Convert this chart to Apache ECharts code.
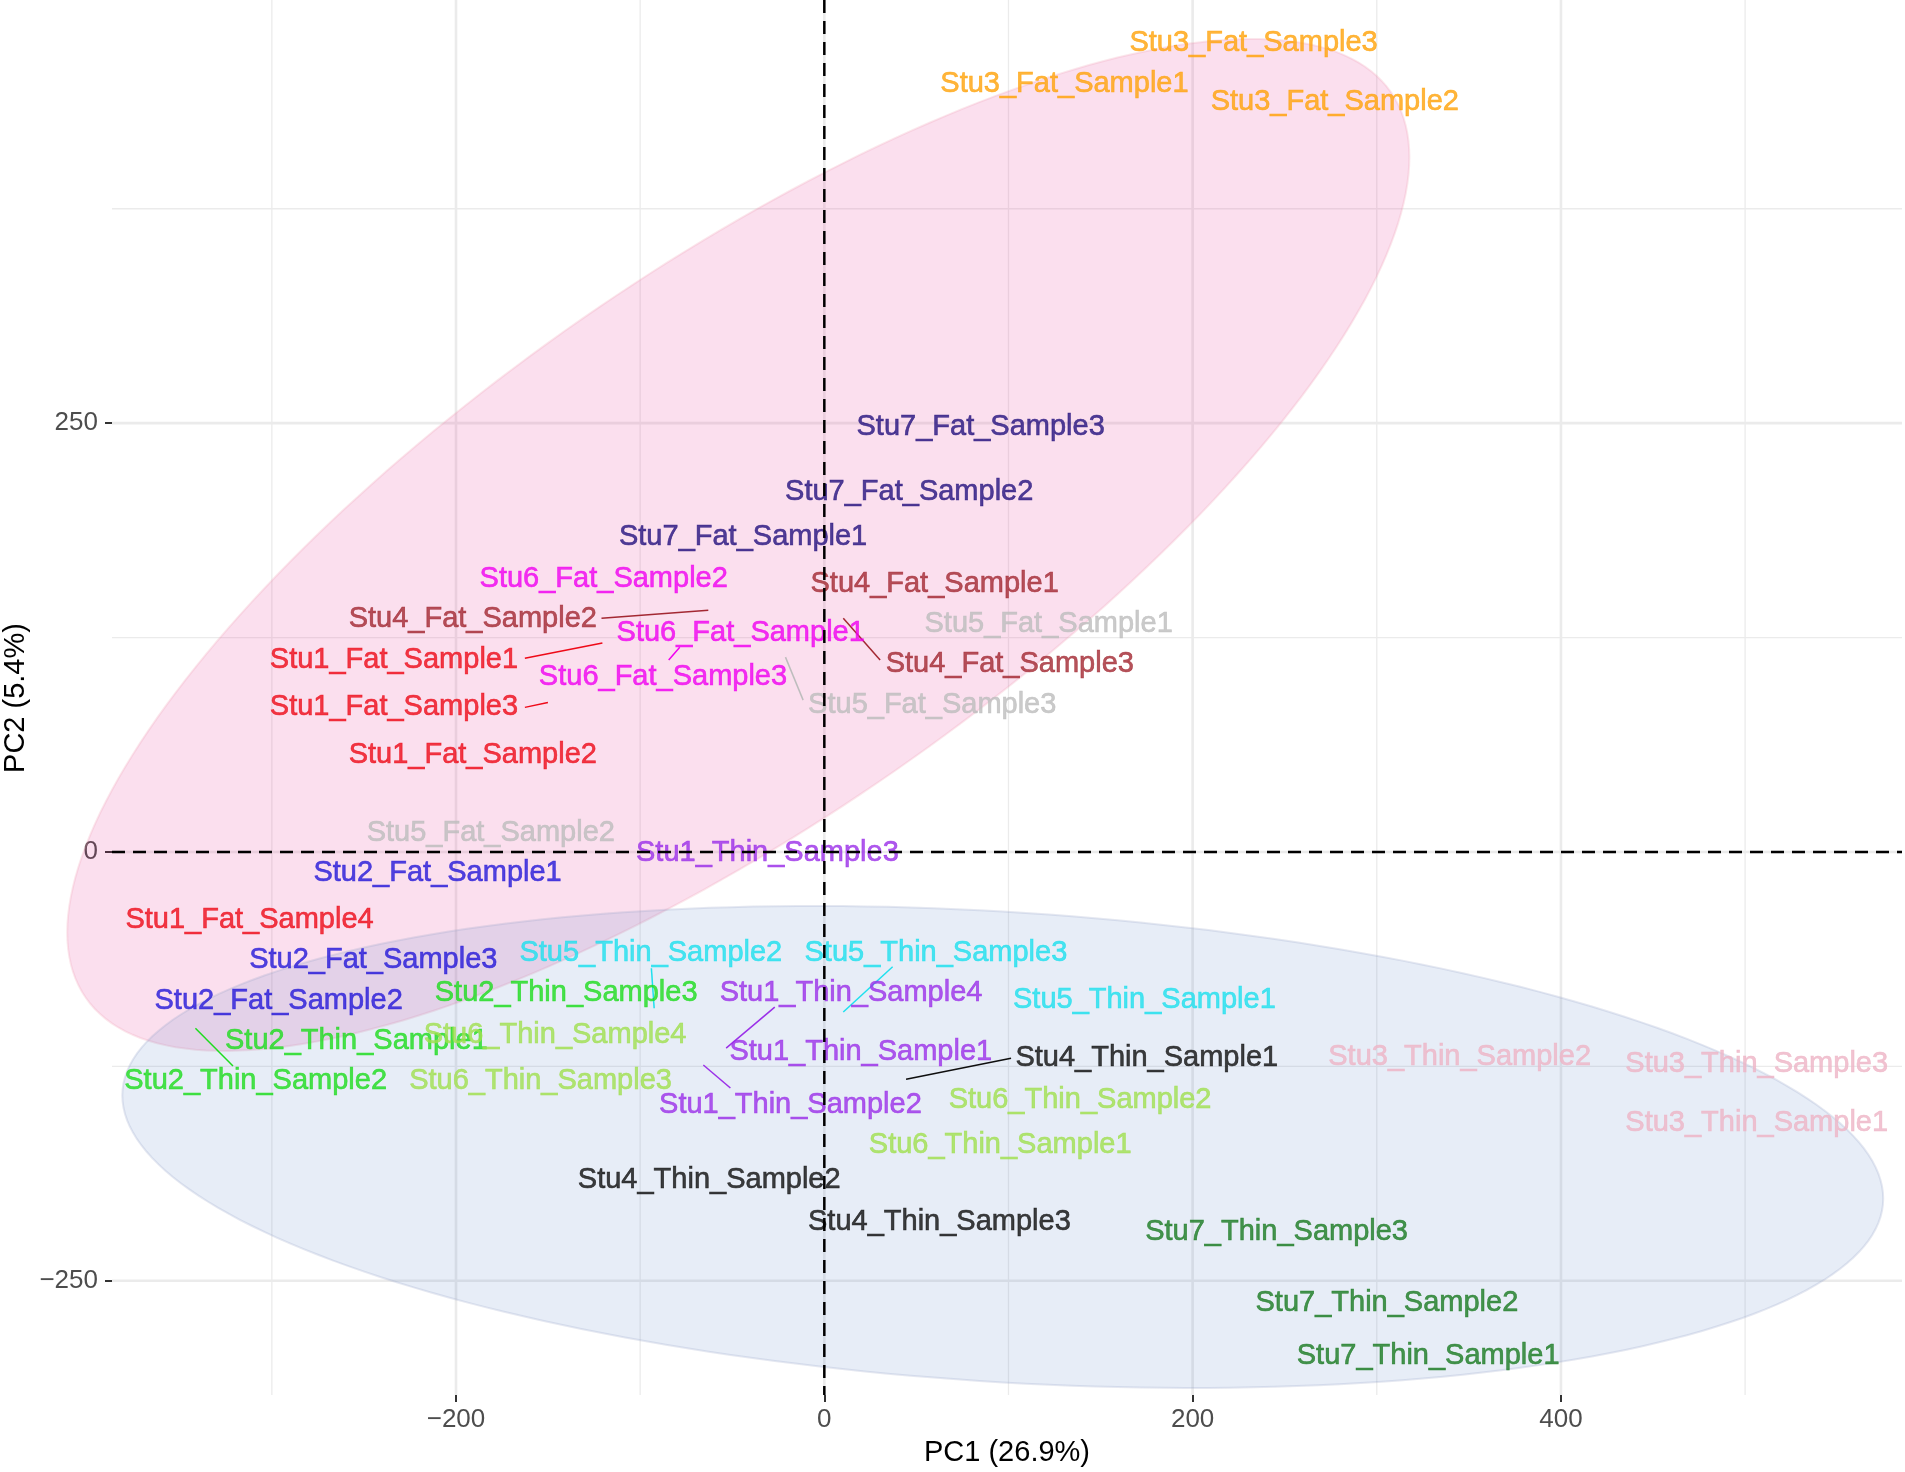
<!DOCTYPE html>
<html lang="en">
<head>
    <meta charset="UTF-8">
    <title>PCA</title>
    <style type="text/css">
        html,
        body,
        #chart {
            padding: 0;
            margin: 0;
            overflow: hidden;
            background-color: #ffffff;
            width: 100%;
            height: 100%;
        }
    </style>
</head>
<body>
<div id="chart"></div>
<script type="text/javascript" src="https://cdn.jsdelivr.net/npm/echarts@6/dist/echarts.min.js"></script>
<script>
    // label positions (PC1, PC2)
    const sampleNames = [
        'Stu3_Fat_Sample3', 'Stu3_Fat_Sample1', 'Stu3_Fat_Sample2',
        'Stu7_Fat_Sample3', 'Stu7_Fat_Sample2', 'Stu7_Fat_Sample1',
        'Stu6_Fat_Sample2', 'Stu4_Fat_Sample1', 'Stu4_Fat_Sample2',
        'Stu5_Fat_Sample1', 'Stu6_Fat_Sample1', 'Stu1_Fat_Sample1',
        'Stu4_Fat_Sample3', 'Stu6_Fat_Sample3', 'Stu1_Fat_Sample3',
        'Stu5_Fat_Sample3', 'Stu1_Fat_Sample2', 'Stu5_Fat_Sample2',
        'Stu1_Thin_Sample3', 'Stu2_Fat_Sample1', 'Stu1_Fat_Sample4',
        'Stu5_Thin_Sample2', 'Stu5_Thin_Sample3', 'Stu2_Fat_Sample3',
        'Stu2_Thin_Sample3', 'Stu1_Thin_Sample4', 'Stu5_Thin_Sample1',
        'Stu2_Fat_Sample2', 'Stu2_Thin_Sample1', 'Stu6_Thin_Sample4',
        'Stu1_Thin_Sample1', 'Stu4_Thin_Sample1', 'Stu3_Thin_Sample2',
        'Stu3_Thin_Sample3', 'Stu2_Thin_Sample2', 'Stu6_Thin_Sample3',
        'Stu6_Thin_Sample2', 'Stu1_Thin_Sample2', 'Stu3_Thin_Sample1',
        'Stu6_Thin_Sample1', 'Stu4_Thin_Sample2', 'Stu4_Thin_Sample3',
        'Stu7_Thin_Sample3', 'Stu7_Thin_Sample2', 'Stu7_Thin_Sample1'
    ];
    const pc1 = [
        233.1, 130.4, 277.2,
        84.9, 46.1, -44.1,
        -119.8, 59.9, -190.9,
        121.8, -45.4, -233.7,
        100.7, -87.6, -233.7,
        58.6, -190.9, -181.1,
        -30.9, -210.0, -312.1,
        -94.2, 60.6, -244.9,
        -140.2, 14.5, 173.8,
        -296.3, -254.1, -146.2,
        19.8, 175.1, 345.0,
        506.3, -308.8, -154.1,
        138.9, -18.4, 506.3,
        95.5, -62.5, 62.5,
        245.6, 305.5, 327.9
    ];
    const pc2 = [
        471.5, 447.5, 437.5,
        247.8, 209.6, 183.4,
        159.3, 156.5, 135.9,
        133.1, 127.4, 111.9,
        109.7, 102.0, 84.3,
        85.7, 56.6, 11.3,
        -0.7, -12.0, -39.6,
        -58.8, -58.8, -63.0,
        -82.1, -82.1, -86.4,
        -87.1, -110.4, -106.9,
        -116.8, -120.4, -119.7,
        -123.9, -133.8, -133.8,
        -144.4, -147.3, -157.9,
        -170.6, -191.2, -215.9,
        -221.6, -262.7, -293.8
    ];

    // repel segments: label side -> point side
    const segLabel = [
        'Stu4_Fat_Sample2', 'Stu1_Fat_Sample1', 'Stu6_Fat_Sample3', 'Stu1_Fat_Sample3',
        'Stu4_Fat_Sample3', 'Stu5_Fat_Sample3', 'Stu2_Thin_Sample1', 'Stu5_Thin_Sample2',
        'Stu1_Thin_Sample2', 'Stu1_Thin_Sample4', 'Stu5_Thin_Sample3', 'Stu4_Thin_Sample1'
    ];
    const segFrom = [
        [-121.0, 136.3], [-162.6, 112.9], [-84.5, 111.9], [-162.6, 84.3],
        [10.3, 136.2], [-21.1, 113.6], [-341.5, -102.8], [-93.9, -67.8],
        [-65.7, -124.2], [-26.9, -90.5], [37.1, -66.9], [101.4, -120.3]
    ];
    const segTo = [
        [-63.0, 140.9], [-120.5, 121.8], [-78.5, 119.3], [-150.1, 87.1],
        [30.3, 111.9], [-11.5, 88.5], [-321.1, -124.8], [-92.4, -91.1],
        [-51.0, -137.6], [-53.3, -114.4], [10.3, -93.3], [44.4, -132.5]
    ];

    const groupColors = {
        Stu1_Fat: '#EE0A18', Stu1_Thin: '#9B30E8',
        Stu2_Fat: '#2418D8', Stu2_Thin: '#1EDC1E',
        Stu3_Fat: '#FFA20A', Stu3_Thin: '#EDB4C6',
        Stu4_Fat: '#A32832', Stu4_Thin: '#0E0E0E',
        Stu5_Fat: '#BDBDBD', Stu5_Thin: '#1EE0EE',
        Stu6_Fat: '#F000F0', Stu6_Thin: '#A0E050',
        Stu7_Fat: '#24127E', Stu7_Thin: '#1A7A22'
    };

    // confidence ellipses: Fat, Thin
    const ellipseCenter = [[-46.7, 179.0], [96.9, -172.0]];
    const ellipseRadius = [[364.4, 295.0], [478.1, 140.5]];
    const ellipseRho = [0.766, -0.214];
    const ellipseFill = ['rgba(231,41,138,0.15)', 'rgba(70,115,195,0.13)'];
    const ellipseStroke = ['rgba(240,160,180,0.25)', 'rgba(150,165,200,0.25)'];

    const xMajor = [-200, 0, 200, 400];
    const xMinor = [-300, -100, 100, 300, 500];
    const yMajor = [-250, 0, 250];
    const yMinor = [-125, 125, 375];

    const FONT = "'Liberation Sans', Arial, Helvetica, sans-serif";

    function groupOf(name) {
        return name.split('_').slice(0, 2).join('_');
    }

    function minusFmt(v) {
        return v < 0 ? '\u2212' + Math.abs(v) : String(v);
    }

    const chart = echarts.init(document.getElementById('chart'), null, {renderer: 'canvas'});

    const gridData = [];
    xMajor.forEach(v => gridData.push([v, 0, 0, 1]));
    xMinor.forEach(v => gridData.push([v, 0, 0, 0]));
    yMajor.forEach(v => gridData.push([0, v, 1, 1]));
    yMinor.forEach(v => gridData.push([0, v, 1, 0]));

    const option = {
        animation: false,
        backgroundColor: '#ffffff',
        grid: {left: 112, right: 3, top: 0, bottom: 77, containLabel: false},
        xAxis: {
            type: 'value',
            min: -386.8,
            max: 585.2,
            name: 'PC1 (26.9%)',
            nameLocation: 'middle',
            nameGap: 43,
            nameTextStyle: {fontSize: 29, color: '#000000', fontFamily: FONT},
            axisLine: {show: false, onZero: false},
            axisTick: {show: true, customValues: xMajor, length: 7, lineStyle: {color: '#333333', width: 2}},
            axisLabel: {customValues: xMajor, formatter: minusFmt, fontSize: 26, color: '#4D4D4D', fontFamily: FONT, margin: 12},
            splitLine: {show: false}
        },
        yAxis: {
            type: 'value',
            min: -316.6,
            max: 496.7,
            axisLine: {show: false, onZero: false},
            axisTick: {show: true, customValues: yMajor, length: 7, lineStyle: {color: '#333333', width: 2}},
            axisLabel: {customValues: yMajor, formatter: minusFmt, fontSize: 26, color: '#4D4D4D', fontFamily: FONT, margin: 14},
            splitLine: {show: false}
        },
        graphic: [{
            type: 'text',
            x: 16,
            y: 698,
            rotation: Math.PI / 2,
            style: {
                text: 'PC2 (5.4%)',
                font: '29px ' + FONT,
                fill: '#000000',
                align: 'center',
                verticalAlign: 'middle',
                textAlign: 'center',
                textVerticalAlign: 'middle'
            }
        }],
        series: [
            {
                // panel grid lines
                type: 'custom',
                coordinateSystem: 'cartesian2d',
                silent: true,
                z: 0,
                data: gridData,
                renderItem: function (params, api) {
                    const cs = params.coordSys;
                    const p = api.coord([api.value(0), api.value(1)]);
                    const horizontal = api.value(2) === 1;
                    const major = api.value(3) === 1;
                    const shape = horizontal
                        ? {x1: cs.x, y1: p[1], x2: cs.x + cs.width, y2: p[1]}
                        : {x1: p[0], y1: cs.y, x2: p[0], y2: cs.y + cs.height};
                    return {
                        type: 'line',
                        shape: shape,
                        style: {stroke: '#EBEBEB', lineWidth: major ? 2.6 : 1.3}
                    };
                }
            },
            {
                // ellipses
                type: 'custom',
                coordinateSystem: 'cartesian2d',
                clip: false,
                silent: true,
                z: 1,
                data: ellipseCenter.map((c, i) => [c[0], c[1], ellipseRadius[i][0], ellipseRadius[i][1], ellipseRho[i], i]),
                renderItem: function (params, api) {
                    const cx = api.value(0), cy = api.value(1);
                    const rx = api.value(2), ry = api.value(3), rho = api.value(4);
                    const k = api.value(5);
                    const s = Math.sqrt(1 - rho * rho);
                    const pts = [];
                    for (let j = 0; j < 240; j++) {
                        const t = j / 240 * Math.PI * 2;
                        pts.push(api.coord([
                            cx + rx * Math.cos(t),
                            cy + ry * (rho * Math.cos(t) + s * Math.sin(t))
                        ]));
                    }
                    return {
                        type: 'polygon',
                        shape: {points: pts},
                        style: {fill: ellipseFill[k], stroke: ellipseStroke[k], lineWidth: 2}
                    };
                }
            },
            {
                type: 'scatter',
                z: 3,
                silent: true,
                symbolSize: 0,
                itemStyle: {color: 'rgba(0,0,0,0)'},
                data: sampleNames.map((n, i) => ({
                    name: n,
                    value: [pc1[i], pc2[i]],
                    label: {
                        color: groupColors[groupOf(n)],
                        textBorderColor: groupColors[groupOf(n)],
                        textBorderWidth: 0.6
                    }
                })),
                label: {
                    show: true,
                    position: 'inside',
                    formatter: '{b}',
                    fontSize: 29,
                    fontFamily: FONT
                }
            },
            {
                type: 'lines',
                coordinateSystem: 'cartesian2d',
                z: 3,
                silent: true,
                data: segLabel.map((n, i) => ({
                    coords: [segFrom[i], segTo[i]],
                    lineStyle: {color: groupColors[groupOf(n)]}
                })),
                lineStyle: {width: 1.5, opacity: 1}
            },
            {
                // dashed zero lines
                type: 'custom',
                coordinateSystem: 'cartesian2d',
                silent: true,
                z: 5,
                data: [[0, 0, 0], [0, 0, 1]],
                renderItem: function (params, api) {
                    const cs = params.coordSys;
                    const p = api.coord([api.value(0), api.value(1)]);
                    const shape = api.value(2) === 1
                        ? {x1: cs.x, y1: p[1], x2: cs.x + cs.width, y2: p[1]}
                        : {x1: p[0], y1: cs.y, x2: p[0], y2: cs.y + cs.height};
                    return {
                        type: 'line',
                        shape: shape,
                        style: {stroke: '#000000', lineWidth: 2.5, lineDash: [13, 8]}
                    };
                }
            }
        ]
    };

    chart.setOption(option);
</script>
</body>
</html>
